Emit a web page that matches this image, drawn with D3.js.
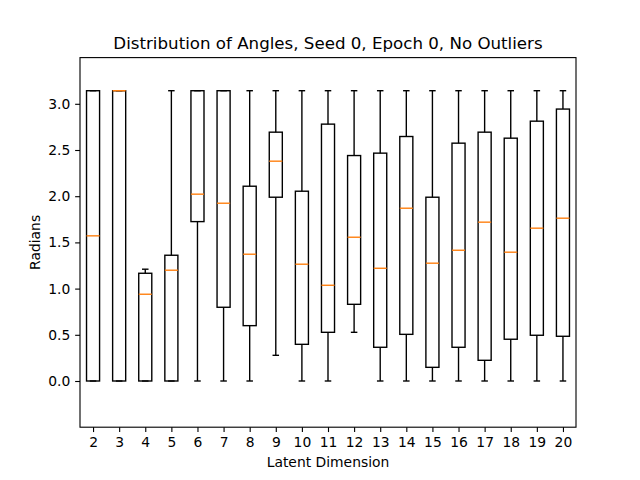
<!DOCTYPE html>
<html>
<head>
<meta charset="utf-8">
<script src="https://cdn.jsdelivr.net/npm/d3@7"></script>
<style>
body { margin: 0; background: #fff; }
text { font-family: "DejaVu Sans", sans-serif; fill: #000; }
</style>
</head>
<body>
<div id="chart"></div>
<script>
const w = 640;
const h = 480;
const margin = {left: 80, right: 64, top: 57.6, bottom: 52.8};

// box statistics (radians)
const dims = [2, 3, 4, 5, 6, 7, 8, 9, 10, 11, 12, 13, 14, 15, 16, 17, 18, 19, 20];
const whiskerLow = [0, 0, 0, 0, 0, 0, 0, 0.278, 0, 0, 0.527, 0, 0, 0, 0, 0, 0, 0, 0];
const q1 = [0, 0, 0, 0, 1.725, 0.798, 0.599, 1.989, 0.397, 0.527, 0.830, 0.365, 0.505, 0.148, 0.365, 0.224, 0.452, 0.495, 0.484];
const medians = [1.571, 3.1416, 0.939, 1.199, 2.022, 1.924, 1.372, 2.379, 1.264, 1.036, 1.556, 1.220, 1.870, 1.275, 1.415, 1.719, 1.394, 1.654, 1.762];
const q3 = [3.1416, 3.1416, 1.166, 1.361, 3.1416, 3.1416, 2.108, 2.693, 2.054, 2.780, 2.440, 2.466, 2.646, 1.989, 2.574, 2.693, 2.628, 2.812, 2.943];
const whiskerHigh = [3.1416, 3.1416, 1.21, 3.1416, 3.1416, 3.1416, 3.1416, 3.1416, 3.1416, 3.1416, 3.1416, 3.1416, 3.1416, 3.1416, 3.1416, 3.1416, 3.1416, 3.1416, 3.1416];
const yTicks = [0, 0.5, 1.0, 1.5, 2.0, 2.5, 3.0];

const lw = 100 / 72;

const svg = d3.select("#chart")
  .append('svg')
  .attr('width', w)
  .attr('height', h);

const xScale = d3.scaleLinear()
  .domain([0.5, dims.length + 0.5])
  .range([margin.left, w - margin.right]);

const yScale = d3.scaleLinear()
  .domain([-0.5, 3.5])
  .range([h - margin.bottom, margin.top]);

const boxW = xScale(1.5) - xScale(1);
const capW = boxW / 2;

const boxes = svg.append('g')
  .selectAll('g')
  .data(dims)
  .enter()
  .append('g');

const cx = (d, i) => xScale(i + 1);

// whiskers
boxes.append('line')
  .attr('x1', cx).attr('x2', cx)
  .attr('y1', (d, i) => yScale(whiskerLow[i]))
  .attr('y2', (d, i) => yScale(q1[i]))
  .attr('stroke', '#000').attr('stroke-width', lw);
boxes.append('line')
  .attr('x1', cx).attr('x2', cx)
  .attr('y1', (d, i) => yScale(q3[i]))
  .attr('y2', (d, i) => yScale(whiskerHigh[i]))
  .attr('stroke', '#000').attr('stroke-width', lw);

// caps
boxes.append('line')
  .attr('x1', (d, i) => cx(d, i) - capW / 2)
  .attr('x2', (d, i) => cx(d, i) + capW / 2)
  .attr('y1', (d, i) => yScale(whiskerLow[i]))
  .attr('y2', (d, i) => yScale(whiskerLow[i]))
  .attr('stroke', '#000').attr('stroke-width', lw);
boxes.append('line')
  .attr('x1', (d, i) => cx(d, i) - capW / 2)
  .attr('x2', (d, i) => cx(d, i) + capW / 2)
  .attr('y1', (d, i) => yScale(whiskerHigh[i]))
  .attr('y2', (d, i) => yScale(whiskerHigh[i]))
  .attr('stroke', '#000').attr('stroke-width', lw);

// box
boxes.append('rect')
  .attr('x', (d, i) => cx(d, i) - boxW / 2)
  .attr('y', (d, i) => yScale(q3[i]))
  .attr('width', boxW)
  .attr('height', (d, i) => yScale(q1[i]) - yScale(q3[i]))
  .attr('fill', 'none')
  .attr('stroke', '#000').attr('stroke-width', lw);

// median
boxes.append('line')
  .attr('x1', (d, i) => cx(d, i) - boxW / 2)
  .attr('x2', (d, i) => cx(d, i) + boxW / 2)
  .attr('y1', (d, i) => yScale(medians[i]))
  .attr('y2', (d, i) => yScale(medians[i]))
  .attr('stroke', '#ff7f0e').attr('stroke-width', lw);

// axes
const tickLen = 3.5 * lw;
const fs = 10 * lw;
const xAxis = d3.axisBottom(xScale)
  .tickValues(dims.map((d, i) => i + 1))
  .tickFormat((d, i) => dims[i])
  .tickSize(tickLen).tickPadding(tickLen);
const yAxis = d3.axisLeft(yScale)
  .tickValues(yTicks)
  .tickFormat(d3.format('.1f'))
  .tickSize(tickLen).tickPadding(tickLen);

const gx = svg.append('g')
  .attr('transform', `translate(0,${h - margin.bottom})`)
  .call(xAxis);
const gy = svg.append('g')
  .attr('transform', `translate(${margin.left},0)`)
  .call(yAxis);
[gx, gy].forEach(g => {
  g.select('.domain').remove();
  g.selectAll('line').attr('stroke', '#000').attr('stroke-width', 0.8 * lw);
  g.selectAll('text').style('font-family', '"DejaVu Sans", sans-serif').style('font-size', fs + 'px').attr('fill', '#000');
});

// frame
svg.append('rect')
  .attr('x', margin.left)
  .attr('y', margin.top)
  .attr('width', w - margin.left - margin.right)
  .attr('height', h - margin.top - margin.bottom)
  .attr('fill', 'none')
  .attr('stroke', '#000')
  .attr('stroke-width', 0.8 * lw);

// labels
svg.append('text')
  .attr('x', (margin.left + w - margin.right) / 2)
  .attr('y', margin.top - 8.3)
  .attr('text-anchor', 'middle')
  .style('font-size', (12 * lw) + 'px')
  .text('Distribution of Angles, Seed 0, Epoch 0, No Outliers');

svg.append('text')
  .attr('x', (margin.left + w - margin.right) / 2)
  .attr('y', 467)
  .attr('text-anchor', 'middle')
  .style('font-size', fs + 'px')
  .text('Latent Dimension');

svg.append('text')
  .attr('transform', `translate(40,${(margin.top + h - margin.bottom) / 2}) rotate(-90)`)
  .attr('text-anchor', 'middle')
  .style('font-size', fs + 'px')
  .text('Radians');
</script>
</body>
</html>
